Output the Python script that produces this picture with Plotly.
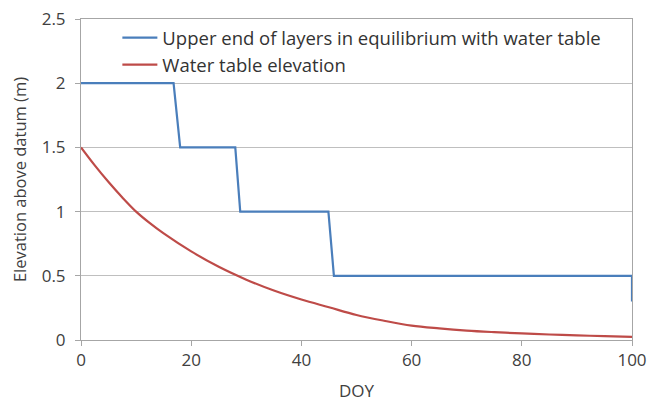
import plotly.graph_objects as go

# Blue step line: upper end of layers in equilibrium with water table
layer_doy = [0, 16.8, 18.0, 28.0, 28.9, 44.9, 45.9, 100, 100]
layer_elev = [2.0, 2.0, 1.5, 1.5, 1.0, 1.0, 0.5, 0.5, 0.3]

# Red curve: water table elevation
wt_doy = [0, 2.5, 5, 7.5, 10, 12.5, 15, 20, 25, 30, 35, 40, 45, 50, 55, 60, 65, 70, 75, 80, 85, 90, 95, 100]
wt_elev = [1.5, 1.36, 1.23, 1.11, 1.0, 0.91, 0.83, 0.69, 0.57, 0.47, 0.385, 0.315, 0.255, 0.195, 0.15, 0.112,
           0.09, 0.073, 0.061, 0.051, 0.043, 0.036, 0.03, 0.025]

x_ticks = [0, 20, 40, 60, 80, 100]
y_ticks = [0, 0.5, 1, 1.5, 2, 2.5]
y_tick_labels = ["0", "0.5", "1", "1.5", "2", "2.5"]

font_family = "Open Sans, Liberation Sans, sans-serif"
text_color = "#404040"

fig = go.Figure()
fig.add_trace(go.Scatter(x=layer_doy, y=layer_elev, mode="lines",
                         name="Upper end of layers in equilibrium with water table",
                         legendgroup="a",
                         line=dict(color="#4A7EBB", width=2.2)))
fig.add_trace(go.Scatter(x=wt_doy, y=wt_elev, mode="lines", line_shape="spline",
                         name="Water table elevation", legendgroup="b",
                         line=dict(color="#BE4B48", width=2.2)))

fig.update_layout(
    width=650, height=402,
    margin=dict(l=81, r=18, t=19, b=62),
    paper_bgcolor="white", plot_bgcolor="white",
    font=dict(family=font_family, size=17, color=text_color),
    showlegend=True,
    legend=dict(x=0.066, y=1.0, xanchor="left", yanchor="top",
                bgcolor="rgba(0,0,0,0)", borderwidth=0,
                font=dict(size=18.5, color="#333333"),
                tracegroupgap=0, itemwidth=35),
    xaxis=dict(range=[0, 100], tickvals=x_ticks, showgrid=False, automargin=False,
               showline=True, linecolor="#A6A6A6", linewidth=1, mirror=True,
               ticks="outside", ticklen=5, tickcolor="#A6A6A6",
               tickfont=dict(size=17),
               title=dict(text="DOY", standoff=14, font=dict(size=17)),
               zeroline=False),
    yaxis=dict(range=[0, 2.5], tickvals=y_ticks, ticktext=y_tick_labels, automargin=False,
               showgrid=True, gridcolor="#BFBFBF", gridwidth=1,
               showline=True, linecolor="#A6A6A6", linewidth=1, mirror=True,
               ticks="outside", ticklen=5, tickcolor="#A6A6A6",
               tickfont=dict(size=17), ticklabelstandoff=6,
               title=dict(text="Elevation above datum (m)", standoff=10, font=dict(size=16.5)),
               zeroline=False),
)

# remove the browser's default page margin so the figure fills the window exactly
fig.write_html("out.html",
               config={"displayModeBar": False},
               post_script="document.body.style.margin='0';document.body.style.overflow='hidden';")
